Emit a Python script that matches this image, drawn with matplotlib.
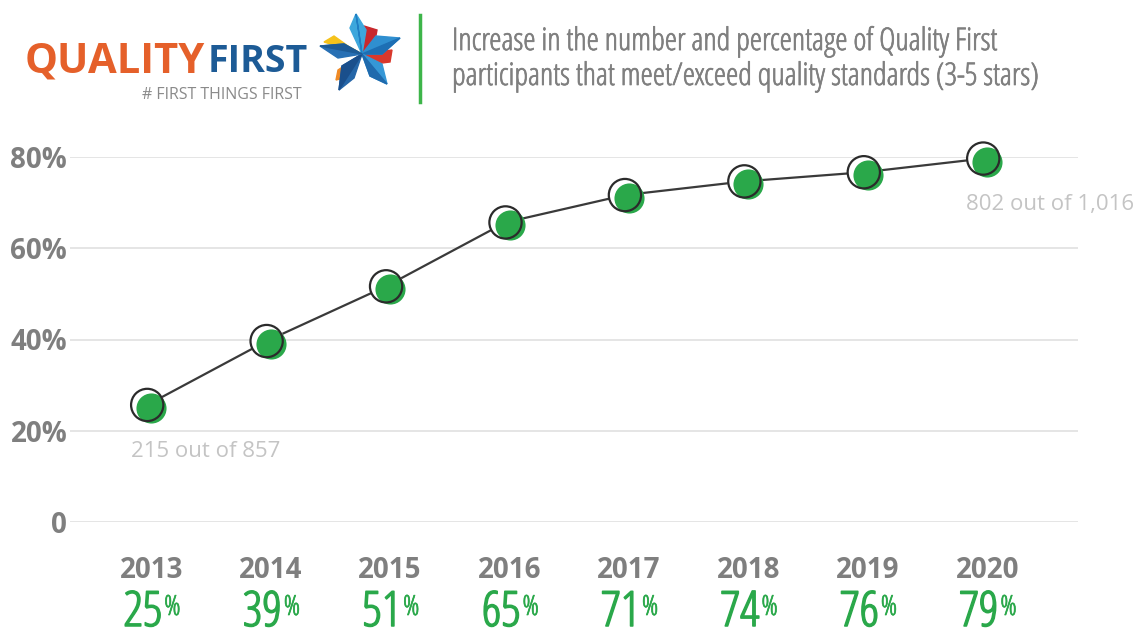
import matplotlib
matplotlib.use("Agg")
import matplotlib.pyplot as plt
import matplotlib.patheffects as pe
from matplotlib.patches import Polygon
from matplotlib.transforms import offset_copy, blended_transform_factory

years = ["2013", "2014", "2015", "2016", "2017", "2018", "2019", "2020"]
pct = [25, 39, 51, 65, 71, 74, 76, 79]
y_ticks = [0, 20, 40, 60, 80]
y_tick_labels = ["0", "20%", "40%", "60%", "80%"]
first_note = "215 out of 857"
last_note = "802 out of 1,016"

GREEN = "#2aa84a"
GRAY = "#7f7f7f"
LIGHT = "#c4c4c4"

fig = plt.figure(figsize=(11.4, 6.37), dpi=100)
ax = fig.add_axes([70 / 1140, 1 - 522 / 637, 1008 / 1140, 365 / 637])
ax.set_xlim(-0.68, 7.76)
ax.set_ylim(0, 80)
for s in ax.spines.values():
    s.set_visible(False)
ax.set_xticks([])
ax.set_yticks(y_ticks)
ax.set_yticklabels(y_tick_labels, fontsize=20, fontweight="bold", color=GRAY,
                   family="Open Sans")
ax.tick_params(axis="y", length=0, pad=2)
ax.grid(axis="y", color="#e3e3e3", lw=1.3)
ax.set_axisbelow(True)

x = list(range(len(years)))
# hollow circles sit a little up-left of the green dots
shift = offset_copy(ax.transData, fig=fig, x=-4, y=3, units="dots")
ax.plot(x, pct, color="#3a3a3a", lw=1.6, transform=shift, zorder=2)
ax.scatter(x, pct, s=540, color="white", transform=shift, zorder=3, clip_on=False)
ax.scatter(x, pct, s=470, color=GREEN, zorder=4, clip_on=False, lw=0)
ax.scatter(x, pct, s=540, facecolor="none", edgecolor="#2b2b2b", lw=1.6,
           transform=shift, zorder=5, clip_on=False)

ax.text(x[0] - 0.17, pct[0] - 9.5, first_note, fontsize=16, color=LIGHT,
        family="Open Sans", ha="left", va="center")
ax.text(x[-1] - 0.18, pct[-1] - 9.5, last_note, fontsize=16, color=LIGHT,
        family="Open Sans", ha="left", va="center")

# year and percent rows under the plot
bt = blended_transform_factory(ax.transData, fig.transFigure)
for i, (yr, p) in enumerate(zip(years, pct)):
    ax.text(i, 1 - 570 / 637, yr, transform=bt, ha="center", va="center",
            fontsize=20, fontweight="bold", color=GRAY, family="Open Sans")
    t = ax.text(i - 0.07, 1 - 613 / 637, str(p), transform=bt, ha="center",
                va="center", fontsize=35, color=GREEN, family="Open Sans",
                fontstretch="condensed",
                path_effects=[pe.withStroke(linewidth=1.1, foreground=GREEN)])
    ax.annotate("%", xy=(1.05, 0.88), xycoords=t, ha="left", va="top",
                fontsize=20, color=GREEN, family="Open Sans",
                fontstretch="condensed",
                path_effects=[pe.withStroke(linewidth=0.5, foreground=GREEN)])

# header: logo text, star, divider, title
fig.text(25 / 1140, 1 - 62 / 637, "QUALITY", fontsize=30, fontweight="bold",
         color="#e5602a", family="Open Sans", fontstretch="condensed",
         va="center", ha="left")
fig.text(208 / 1140, 1 - 62 / 637, "FIRST", fontsize=27, fontweight="bold",
         color="#1d5b96", family="Open Sans", fontstretch="condensed",
         va="center", ha="left")
fig.text(142 / 1140, 1 - 95 / 637, "# FIRST THINGS FIRST", fontsize=11.5,
         color="#8a8a8a", family="Open Sans", va="center", ha="left")

cx, cy = 362, 54
blades = [
    # (polygon, colour) -- back petals first, then the five blue blades
    ([(cx, cy), (364, 26), (377, 30), (374, 46)], "#c8282d"),
    ([(cx, cy), (392, 50), (390, 62), (374, 64)], "#d9382c"),
    ([(cx, cy), (338, 70), (336, 80), (352, 76)], "#f08a25"),
    ([(cx, cy), (324, 42), (334, 36), (348, 46)], "#f5c21b"),
    ([(cx, cy), (350, 28), (356, 14), (366, 30)], "#3da7dc"),
    ([(cx, cy), (356, 14), (360, 40)], "#1f7fc4"),
    ([(cx, cy), (376, 36), (400, 38), (382, 54)], "#2f8fd0"),
    ([(cx, cy), (382, 54), (400, 38)], "#1d6fb4"),
    ([(cx, cy), (382, 64), (387, 84), (370, 76)], "#3597d6"),
    ([(cx, cy), (370, 76), (387, 84)], "#1f6aad"),
    ([(cx, cy), (354, 78), (339, 90), (342, 66)], "#2566a8"),
    ([(cx, cy), (342, 66), (339, 90)], "#1a4f8c"),
    ([(cx, cy), (338, 58), (320, 46), (344, 44)], "#2870b4"),
    ([(cx, cy), (344, 44), (320, 46)], "#1d5b96"),
]
for pts, col in blades:
    fig.patches.append(Polygon([(px / 1140, 1 - py / 637) for px, py in pts],
                               closed=True, color=col, transform=fig.transFigure))

fig.add_artist(plt.Line2D([420 / 1140, 420 / 1140], [1 - 15 / 637, 1 - 102 / 637],
                          color="#3db54a", lw=2.5, transform=fig.transFigure))
title_fx = [pe.withStroke(linewidth=0.5, foreground=GRAY)]
fig.text(452 / 1140, 1 - 42 / 637,
         "Increase in the number and percentage of Quality First",
         fontsize=22.5, color=GRAY, family="Open Sans", fontstretch="condensed",
         va="center", ha="left", path_effects=title_fx)
fig.text(452 / 1140, 1 - 77 / 637,
         "participants that meet/exceed quality standards (3-5 stars)",
         fontsize=22.5, color=GRAY, family="Open Sans", fontstretch="condensed",
         va="center", ha="left", path_effects=title_fx)

fig.savefig("out.png", dpi=100, facecolor="white")
